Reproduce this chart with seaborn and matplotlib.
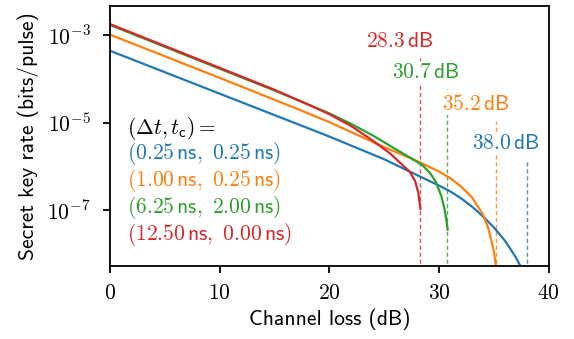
import math
import pandas as pd
import seaborn as sns
import matplotlib.pyplot as plt
from matplotlib.ticker import FixedLocator, FuncFormatter, NullLocator

# values (loss in dB, rate in bits/pulse)
loss_a = [0, 10, 20, 25, 28, 30, 31, 32, 33, 34, 35, 36, 36.5, 37, 37.5, 37.8]
rate_a = [4.37e-4, 4.57e-5, 4.79e-6, 1.45e-6, 6.3e-7, 3.63e-7, 2.69e-7, 1.86e-7,
          1.20e-7, 7.2e-8, 4.0e-8, 2.0e-8, 1.30e-8, 8.3e-9, 4.8e-9, 2.5e-9]

loss_b = [0, 10, 17, 20, 25, 28, 30, 31, 32, 33, 34, 34.5, 35, 35.2, 35.3]
rate_b = [1.02e-3, 1.05e-4, 2.09e-5, 1.02e-5, 2.75e-6, 1.32e-6, 7.6e-7, 5.4e-7,
          3.47e-7, 1.95e-7, 7.9e-8, 3.8e-8, 1.12e-8, 5.0e-9, 2.5e-9]

loss_c = [0, 10, 15, 18, 20, 22, 24, 26, 27.5, 28.5, 29.2, 29.7, 30.2, 30.5, 30.7, 30.78]
rate_c = [1.70e-3, 1.70e-4, 5.4e-5, 2.63e-5, 1.62e-5, 9.3e-6, 5.0e-6, 2.5e-6,
          1.51e-6, 1.05e-6, 6.9e-7, 4.4e-7, 2.1e-7, 1.05e-7, 5.2e-8, 3.5e-8]

loss_d = [0, 10, 15, 18, 20, 22, 24, 25.5, 26.5, 27.3, 27.8, 28.1, 28.25, 28.3]
rate_d = [1.78e-3, 1.78e-4, 5.6e-5, 2.63e-5, 1.55e-5, 8.3e-6, 3.8e-6, 2.0e-6,
          1.17e-6, 7.6e-7, 4.7e-7, 2.5e-7, 1.32e-7, 1.05e-7]

settings = ['(0.25 ns, 0.25 ns)', '(1.00 ns, 0.25 ns)',
            '(6.25 ns, 2.00 ns)', '(12.50 ns, 0.00 ns)']
legend_texts = [r'$(0.25\,\mathsf{ns},\ 0.25\,\mathsf{ns})$',
                r'$(1.00\,\mathsf{ns},\ 0.25\,\mathsf{ns})$',
                r'$(6.25\,\mathsf{ns},\ 2.00\,\mathsf{ns})$',
                r'$(12.50\,\mathsf{ns},\ 0.00\,\mathsf{ns})$']
cutoffs = [38.0, 35.2, 30.7, 28.3]
cutoff_tops = [1.4e-6, 1.1e-5, 6.0e-5, 3.0e-4]

colors = sns.color_palette('tab10', 4)

frames = []
for name, x, y in zip(settings, [loss_a, loss_b, loss_c, loss_d],
                      [rate_a, rate_b, rate_c, rate_d]):
    frames.append(pd.DataFrame({'loss': x, 'rate': y, 'setting': name}))
df = pd.concat(frames, ignore_index=True)

sns.set_style('ticks')
plt.rcParams['mathtext.fontset'] = 'cm'
plt.rcParams['text.color'] = 'black'
plt.rcParams['xtick.color'] = 'black'
plt.rcParams['ytick.color'] = 'black'
plt.rcParams['axes.labelcolor'] = 'black'

fs = 15.5

fig, ax = plt.subplots(figsize=(5.74, 3.39), dpi=100)
fig.subplots_adjust(left=0.192, right=0.956, top=0.982, bottom=0.215)

sns.lineplot(data=df, x='loss', y='rate', hue='setting', palette=colors,
             sort=False, estimator=None, legend=False, lw=1.6, ax=ax)

ax.set_yscale('log')
ax.set_xlim(0, 40)
ax.set_ylim(10 ** -8.28, 10 ** -2.337)

# dashed cutoff markers with labels (labels sit on a white box over the lines)
for c, top, col in zip(cutoffs, cutoff_tops, colors):
    ax.vlines(c, 1e-9, top, colors=[col], linestyles=(0, (3, 2)), lw=1.0,
              alpha=0.8, zorder=1)
for c, top, col in zip(cutoffs, cutoff_tops, colors):
    ax.annotate(r'$%.1f\,\mathsf{dB}$' % c, (c, top), xytext=(-15, 12),
                textcoords='offset points', ha='center', va='center',
                color=col, fontsize=fs, zorder=5,
                bbox=dict(facecolor='white', edgecolor='none', pad=0.5))

ax.text(0.039, 0.531, r'$(\Delta t, t_\mathsf{c}) =$', transform=ax.transAxes,
        ha='left', va='center', fontsize=fs)
for i, (t, col) in enumerate(zip(legend_texts, colors)):
    ax.text(0.039, 0.435 - i * 0.105, t, transform=ax.transAxes,
            ha='left', va='center', color=col, fontsize=fs)

ax.xaxis.set_major_locator(FixedLocator([0, 10, 20, 30, 40]))
ax.xaxis.set_major_formatter(FuncFormatter(lambda v, p: r'$%d$' % v))
ax.yaxis.set_major_locator(FixedLocator([1e-3, 1e-5, 1e-7]))
ax.yaxis.set_major_formatter(FuncFormatter(
    lambda v, p: r'$10^{%d}$' % round(math.log10(v))))
ax.yaxis.set_minor_locator(NullLocator())

for s in ax.spines.values():
    s.set_linewidth(1.3)
    s.set_color('black')
ax.tick_params(axis='both', direction='out', length=5, width=1.3,
               labelsize=fs, color='black')
ax.tick_params(axis='x', pad=7)
ax.tick_params(axis='y', pad=9)

ax.set_xlabel('Channel loss (dB)', fontfamily='cmss10', fontsize=fs, labelpad=4)
ax.set_ylabel('Secret key rate (bits/pulse)', fontfamily='cmss10', fontsize=fs,
              labelpad=6)

fig.savefig('out.png', dpi=100)
